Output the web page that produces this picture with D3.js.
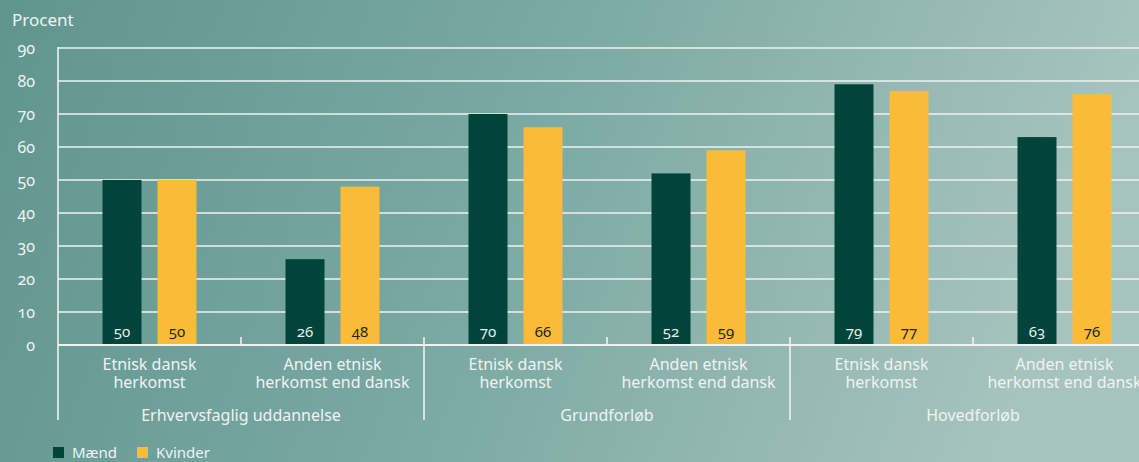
<!DOCTYPE html>
<html><head><meta charset="utf-8">
<script src="https://cdn.jsdelivr.net/npm/d3@7"></script>
<style>
html,body{margin:0;padding:0;background:#7aa8a2;}
svg{display:block;font-family:"Noto Sans","Open Sans",sans-serif;font-feature-settings:"onum" 1;}
</style></head><body>
<svg id="c" width="1139" height="462"></svg>
<script>
const groups = ["Erhvervsfaglig uddannelse","Grundforløb","Hovedforløb"];
const categories = [["Etnisk dansk","herkomst"],["Anden etnisk","herkomst end dansk"]];
const series = ["Mænd","Kvinder"];
const maend   = [50,26,70,52,79,63];
const kvinder = [50,48,66,59,77,76];
const yTicks = [0,10,20,30,40,50,60,70,80,90];
const colors = ["#00443a","#fbbb36"];
const labelColors = ["#e6eeec","#1e261e"];

const svg = d3.select("#c");
const W = 1139, H = 462;
const defs = svg.append("defs");
const g1 = defs.append("linearGradient").attr("id","bg").attr("x1","0").attr("y1","0").attr("x2","1").attr("y2","0.15");
g1.append("stop").attr("offset","0").attr("stop-color","#60958e");
g1.append("stop").attr("offset","0.5").attr("stop-color","#7ba9a3");
g1.append("stop").attr("offset","1").attr("stop-color","#a7c3be");
svg.append("rect").attr("width",W).attr("height",H).attr("fill","url(#bg)");

const x0 = 58, catW = 183, barW = 39, gap = 16;
const rows = [];
groups.forEach((g,gi)=>categories.forEach((c,ci)=>rows.push({g,gi,c,ci,idx:gi*2+ci})));
const x = d3.scaleBand().domain(rows.map(r=>r.idx)).range([x0, x0+catW*rows.length]).padding(0);
const xs = d3.scaleBand().domain(series)
  .range([(catW-2*barW-gap)/2, (catW+2*barW+gap)/2]).paddingInner(gap/(barW+gap)).paddingOuter(0);
const y = d3.scaleLinear().domain([0,90]).range([345,48]);

const white = "#eef3f2";
// gridlines
svg.append("g").selectAll("line").data(yTicks).join("line")
  .attr("x1",x0).attr("x2",W).attr("y1",d=>y(d)).attr("y2",d=>y(d))
  .attr("stroke",white).attr("stroke-width",1.6);
// y axis line
svg.append("line").attr("x1",x0).attr("x2",x0).attr("y1",y(90)-1).attr("y2",420).attr("stroke",white).attr("stroke-width",1.6);
// y tick labels
svg.append("g").selectAll("text").data(yTicks).join("text")
  .attr("x",35).attr("y",d=>y(d)+6).attr("text-anchor","end")
  .attr("fill",white).attr("font-size",16).text(d=>d);
svg.append("text").attr("x",12).attr("y",26).attr("fill",white).attr("font-size",17).text("Procent");

// bars
const data = rows.map(r=>({...r, vals:series.map((s,i)=>({s,i,v:[maend,kvinder][i][r.idx]}))}));
const cat = svg.append("g").selectAll("g").data(data).join("g").attr("transform",d=>`translate(${x(d.idx)},0)`);
cat.selectAll("rect").data(d=>d.vals).join("rect")
  .attr("x",d=>xs(d.s)).attr("width",xs.bandwidth())
  .attr("y",d=>y(d.v)).attr("height",d=>y(0)-y(d.v)).attr("fill",d=>colors[d.i]);
cat.selectAll("text.v").data(d=>d.vals).join("text").attr("class","v")
  .attr("x",d=>xs(d.s)+xs.bandwidth()/2).attr("y",y(0)-8)
  .attr("text-anchor","middle").attr("font-size",15).attr("fill",d=>labelColors[d.i]).text(d=>d.v);
// category labels
cat.each(function(d){
  const t = d3.select(this).append("text").attr("text-anchor","middle").attr("fill",white).attr("font-size",16);
  d.c.forEach((line,li)=>t.append("tspan").attr("x",catW/2).attr("y",370+li*18).text(line));
});
// baseline
svg.append("line").attr("x1",x0).attr("x2",W).attr("y1",y(0)).attr("y2",y(0)).attr("stroke",white).attr("stroke-width",2);
// small ticks between categories within group, long separators between groups
rows.forEach(r=>{
  if(r.idx===0) return;
  const xx = x(r.idx);
  const long = r.ci===0;
  svg.append("line").attr("x1",xx).attr("x2",xx).attr("y1",337).attr("y2",long?420:345).attr("stroke",white).attr("stroke-width",1.6);
});
// group labels
groups.forEach((g,gi)=>{
  svg.append("text").attr("x",x(gi*2)+catW).attr("y",421).attr("text-anchor","middle").attr("fill",white).attr("font-size",16).text(g);
});
// legend
const lg = svg.append("g");
const lx = [53,137];
series.forEach((s,i)=>{
  lg.append("rect").attr("x",lx[i]).attr("y",447).attr("width",11).attr("height",11).attr("fill",colors[i]);
  lg.append("text").attr("x",lx[i]+19).attr("y",458).attr("fill",white).attr("font-size",15).text(s);
});
</script></body></html>
